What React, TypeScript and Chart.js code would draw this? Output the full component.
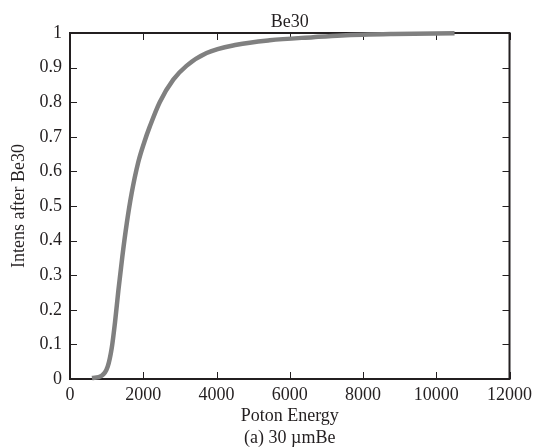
import React, { useEffect, useRef } from "react";
import { Chart, registerables } from "chart.js";

Chart.register(...registerables);

// Data
const energy = [600, 860, 1030, 1140, 1230, 1320, 1430, 1550, 1680, 1860, 2030, 2180, 2450, 2820, 3180, 3730, 4550, 5450, 6640, 7420, 8830, 10500];
const intensity = [0.003, 0.009, 0.036, 0.09, 0.165, 0.255, 0.355, 0.45, 0.535, 0.625, 0.685, 0.73, 0.8, 0.865, 0.905, 0.942, 0.966, 0.979, 0.988, 0.993, 0.997, 0.999];

const xTicks = [0, 2000, 4000, 6000, 8000, 10000, 12000];
const yTicks = [0, 0.1, 0.2, 0.3, 0.4, 0.5, 0.6, 0.7, 0.8, 0.9, 1];

const titleText = "Be30";
const xTitle = "Poton Energy";
const caption = "(a) 30 \u00b5mBe";
const yTitle = "Intens after Be30";

const INK = "#231f20";
const LINE = "#808080";
const FONT = "'Liberation Serif', 'Times New Roman', serif";

const frameTicks = {
  id: "frameTicks",
  beforeDatasetsDraw(chart: any) {
    const { ctx, chartArea: a, scales } = chart;
    const xs = scales.x;
    const ys = scales.y;
    const len = 7;
    ctx.save();
    ctx.strokeStyle = INK;
    ctx.lineWidth = 1;
    ctx.beginPath();
    for (const t of xTicks) {
      const px = Math.round(xs.getPixelForValue(t)) + 0.5;
      ctx.moveTo(px, a.bottom);
      ctx.lineTo(px, a.bottom - len);
      ctx.moveTo(px, a.top);
      ctx.lineTo(px, a.top + len);
    }
    for (const t of yTicks) {
      const py = Math.round(ys.getPixelForValue(t)) + 0.5;
      ctx.moveTo(a.left, py);
      ctx.lineTo(a.left + len, py);
      ctx.moveTo(a.right, py);
      ctx.lineTo(a.right - len, py);
    }
    ctx.stroke();
    ctx.lineWidth = 2;
    ctx.strokeRect(a.left, a.top, a.right - a.left, a.bottom - a.top);
    ctx.restore();
  },
};

export default function App() {
  const ref = useRef<HTMLCanvasElement | null>(null);

  useEffect(() => {
    document.body.style.margin = "0";
    const canvas = ref.current;
    if (!canvas) return;
    const points = energy.map((e, i) => ({ x: e, y: intensity[i] }));
    const chart = new Chart(canvas, {
      type: "line",
      data: {
        datasets: [
          {
            data: points,
            borderColor: LINE,
            borderWidth: 4.5,
            pointRadius: 0,
            fill: false,
            cubicInterpolationMode: "monotone",
            clip: false as any,
          },
        ],
      },
      options: {
        animation: false,
        responsive: false,
        layout: { padding: { top: 0, right: 27, bottom: 0, left: 0 } },
        plugins: {
          legend: { display: false },
          tooltip: { enabled: false },
          title: {
            display: true,
            fullSize: false,
            text: titleText,
            color: INK,
            font: { family: FONT, size: 18, weight: "normal" as any, lineHeight: 1.2 },
            padding: { top: 11, bottom: 0.4 },
          },
        },
        scales: {
          x: {
            type: "linear",
            min: 0,
            max: 12000,
            afterBuildTicks: (s: any) => {
              s.ticks = xTicks.map((v) => ({ value: v }));
            },
            afterFit: (s: any) => {
              s.height = 69;
            },
            grid: { display: false, drawTicks: false, tickLength: 0 },
            border: { display: false },
            ticks: {
              color: INK,
              font: { family: FONT, size: 18 },
              padding: 5,
              maxRotation: 0,
              callback: (v: any) => String(v),
            },
            title: {
              display: true,
              text: [xTitle, caption],
              color: INK,
              font: { family: FONT, size: 18, lineHeight: 22 / 18 },
              padding: { top: 0, bottom: -1 },
            },
          },
          y: {
            type: "linear",
            min: 0,
            max: 1,
            afterBuildTicks: (s: any) => {
              s.ticks = yTicks.map((v) => ({ value: v }));
            },
            afterFit: (s: any) => {
              s.width = 70;
            },
            grid: { display: false, drawTicks: false, tickLength: 0 },
            border: { display: false },
            ticks: {
              color: INK,
              font: { family: FONT, size: 18 },
              padding: 8,
              callback: (v: any) => String(Math.round(Number(v) * 10) / 10),
            },
            title: {
              display: true,
              text: yTitle,
              color: INK,
              font: { family: FONT, size: 18, lineHeight: 1.2 },
              padding: { top: 8, bottom: 0 },
            },
          },
        },
      },
      plugins: [frameTicks],
    });
    return () => chart.destroy();
  }, []);

  return (
    <div style={{ width: 537, height: 448 }}>
      <canvas ref={ref} width={537} height={448} style={{ display: "block" }} />
    </div>
  );
}
